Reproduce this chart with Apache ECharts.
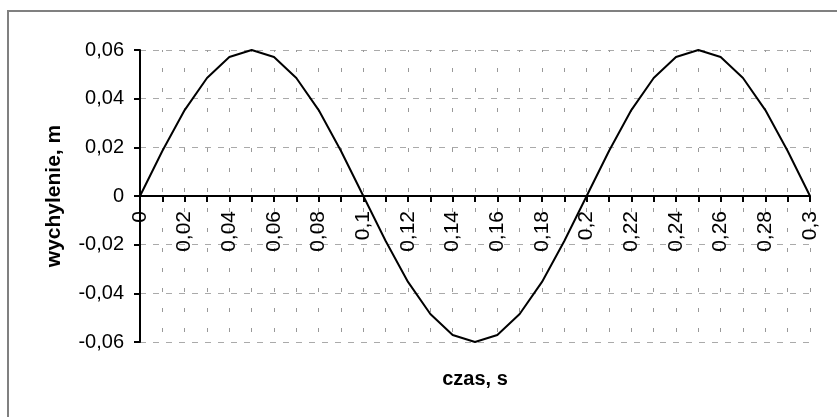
<!DOCTYPE html>
<html>
<head>
<meta charset="utf-8">
<script src="https://cdn.jsdelivr.net/npm/echarts@6/dist/echarts.min.js"></script>
<style>
  html, body { margin: 0; padding: 0; background: #fff; }
  #chart { width: 837px; height: 417px; }
</style>
</head>
<body>
<div id="chart"></div>
<script>
// czas, s (co 0,01 s)
var czas = ['0', '0,01', '0,02', '0,03', '0,04', '0,05', '0,06', '0,07', '0,08', '0,09',
  '0,1', '0,11', '0,12', '0,13', '0,14', '0,15', '0,16', '0,17', '0,18', '0,19',
  '0,2', '0,21', '0,22', '0,23', '0,24', '0,25', '0,26', '0,27', '0,28', '0,29', '0,3'];
// wychylenie, m
var wychylenie = [0, 0.0185, 0.0353, 0.0485, 0.0571, 0.06, 0.0571, 0.0485, 0.0353, 0.0185,
  0, -0.0185, -0.0353, -0.0485, -0.0571, -0.06, -0.0571, -0.0485, -0.0353, -0.0185,
  0, 0.0185, 0.0353, 0.0485, 0.0571, 0.06, 0.0571, 0.0485, 0.0353, 0.0185, 0];

var font = '"Liberation Sans", Arial, sans-serif';
var chart = echarts.init(document.getElementById('chart'));

// wysokość siatki 292 px -> oś x przesunięta na poziom zera
var gridTop = 50, gridBottom = 75;
var plotH = 417 - gridTop - gridBottom;

chart.setOption({
  animation: false,
  textStyle: { fontFamily: font },
  graphic: [{
    type: 'rect',
    shape: { x: 8, y: 11, width: 900, height: 500 },
    style: { fill: 'none', stroke: '#808080', lineWidth: 2 },
    silent: true
  }],
  grid: { left: 140, right: 27, top: gridTop, bottom: gridBottom, containLabel: false, outerBoundsMode: 'none' },
  xAxis: {
    type: 'category',
    data: czas,
    boundaryGap: false,
    position: 'bottom',
    offset: -plotH / 2,
    name: 'czas, s',
    nameLocation: 'middle',
    nameGap: 173,
    nameTextStyle: { fontSize: 20, fontWeight: 'bold', color: '#000', fontFamily: font },
    axisLine: { onZero: false, lineStyle: { color: '#000', width: 2 } },
    axisTick: { interval: 0, length: 6, lineStyle: { color: '#000', width: 2 } },
    axisLabel: {
      interval: 1,
      rotate: 90,
      margin: 15,
      fontSize: 21,
      color: '#000',
      fontFamily: font
    },
    splitLine: {
      show: true,
      interval: 0,
      lineStyle: { color: '#999', width: 1, type: [4, 16], dashOffset: 2 }
    }
  },
  yAxis: {
    type: 'value',
    min: -0.06,
    max: 0.06,
    interval: 0.02,
    name: 'wychylenie, m',
    nameLocation: 'middle',
    nameGap: 75,
    nameTextStyle: { fontSize: 21, fontWeight: 'bold', color: '#000', fontFamily: font },
    axisLine: { show: true, lineStyle: { color: '#000', width: 2 } },
    axisTick: { show: true, length: 6, lineStyle: { color: '#000', width: 2 } },
    axisLabel: {
      margin: 16,
      fontSize: 20,
      color: '#000',
      fontFamily: font,
      formatter: function (v) {
        if (Math.abs(v) < 1e-9) return '0';
        return v.toFixed(2).replace('.', ',');
      }
    },
    splitLine: {
      show: true,
      lineStyle: { color: '#aaa', width: 1, type: [6, 7] }
    }
  },
  series: [{
    type: 'line',
    data: wychylenie,
    showSymbol: false,
    symbol: 'none',
    lineStyle: { color: '#000', width: 2 },
    z: 5
  }]
});
</script>
</body>
</html>
